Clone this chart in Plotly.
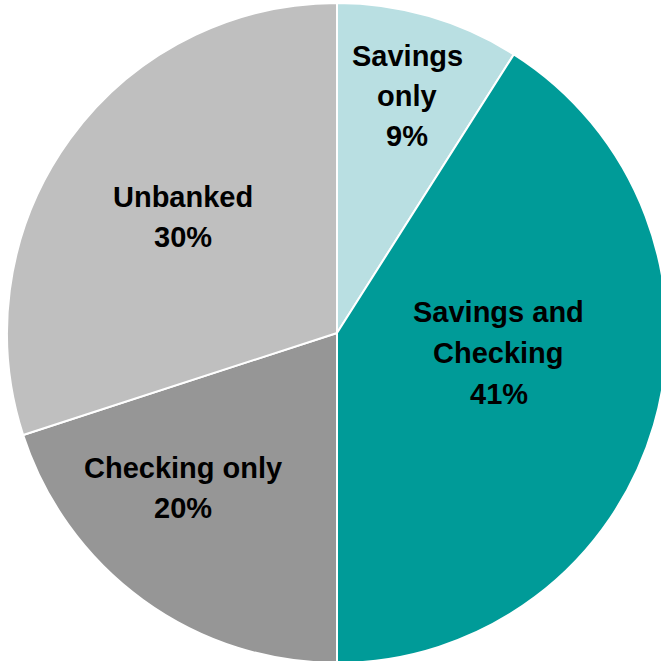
import plotly.graph_objects as go

# Data
categories = ["Savings only", "Savings and Checking", "Checking only", "Unbanked"]
shares = [9, 41, 20, 30]
label_lines = [["Savings", "only"], ["Savings and", "Checking"], ["Checking only"], ["Unbanked"]]

colors = ["#B9DFE2", "#009B98", "#969696", "#BFBFBF"]

W, H = 680, 680
CX, CY, R = 337, 333, 330  # pixel center / radius in the page
LINE_PITCH = 40.5

fig = go.Figure(go.Pie(
    labels=categories,
    values=shares,
    sort=False,
    direction="clockwise",
    rotation=0,
    marker=dict(colors=colors, line=dict(color="white", width=2)),
    textinfo="none",
    hoverinfo="label+percent",
    showlegend=False,
    domain=dict(x=[(CX - R) / W, (CX + R) / W], y=[1 - (CY + R) / H, 1 - (CY - R) / H]),
))

# label block centres (page pixels)
label_pos = [(407, 96), (499, 353), (183, 488), (183, 217)]
annotations = []
for lines, v, (px, py) in zip(label_lines, shares, label_pos):
    all_lines = lines + [f"{v}%"]
    n = len(all_lines)
    for i, line in enumerate(all_lines):
        ly = py + (i - (n - 1) / 2) * LINE_PITCH
        annotations.append(dict(
            text=line,
            x=px / W, y=1 - ly / H, xref="paper", yref="paper",
            xanchor="center", yanchor="middle", showarrow=False, align="center",
            font=dict(family="Liberation Sans, Arial, sans-serif", size=29, color="black", weight="bold"),
        ))

fig.update_layout(
    width=W, height=H,
    margin=dict(l=0, r=0, t=0, b=0),
    paper_bgcolor="white", plot_bgcolor="white",
    annotations=annotations,
)

fig.write_html(
    "out.html",
    post_script="document.body.style.margin='0';document.body.style.overflow='hidden';document.documentElement.style.overflow='hidden';",
)
